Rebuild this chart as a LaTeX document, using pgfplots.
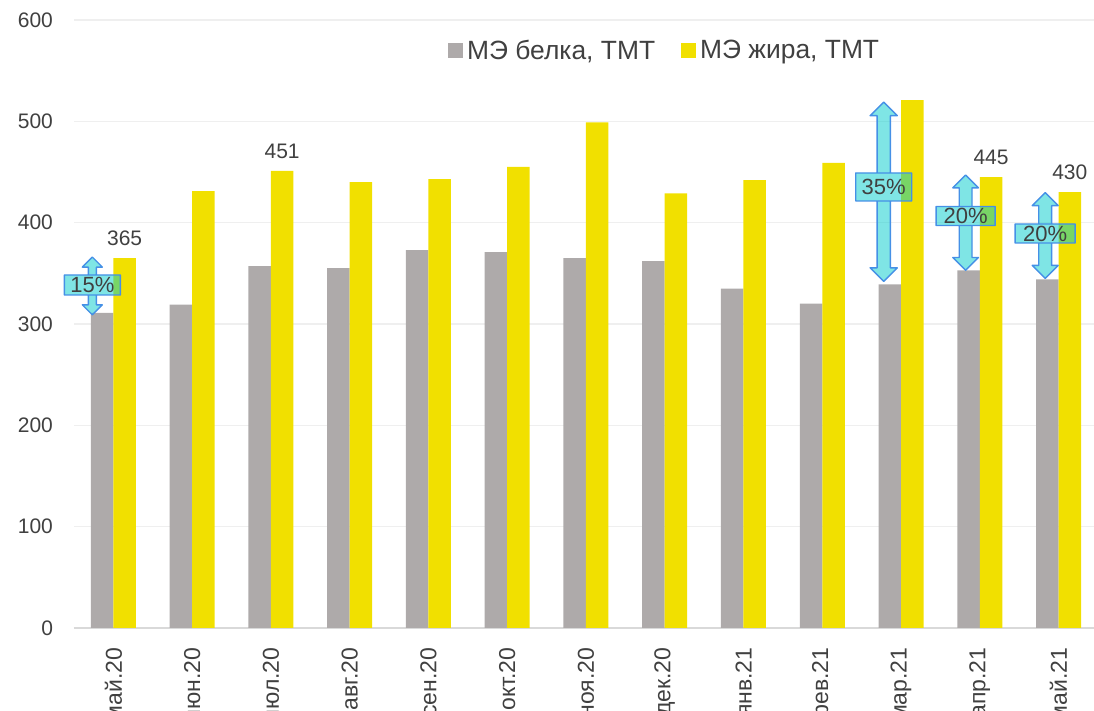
\documentclass[border=0pt]{standalone}
\usepackage{fontspec}
\setmainfont{Liberation Sans}
\usepackage{pgfplots}
\pgfplotsset{compat=1.18}
\usetikzlibrary{calc}
\definecolor{barGray}{HTML}{AEAAAA}
\definecolor{barYellow}{HTML}{F1E000}
\definecolor{gridGray}{HTML}{EFEFEF}
\definecolor{axisGray}{HTML}{D9D9D9}
\definecolor{textGray}{HTML}{404040}
\definecolor{arrowFill}{HTML}{00CCCC}
\definecolor{arrowLine}{HTML}{4590E6}

% #1 x, #2 tip top, #3 tip bottom, #4 box centre y, #5 box half width,
% #6 box half height, #7 shaft half width, #8 head half width, #9 text
\newcommand{\pctarrow}[9]{%
  \coordinate (T) at (axis cs:#1,#2);
  \coordinate (B) at (axis cs:#1,#3);
  \coordinate (C) at (axis cs:#1,#4);
  \fill[arrowFill, fill opacity=0.5]
    (T) -- ($(T)+(-#8,-#8)$) -- ($(T)+(-#7,-#8)$) -- ($(B)+(-#7,#8)$)
        -- ($(B)+(-#8,#8)$) -- (B) -- ($(B)+(#8,#8)$) -- ($(B)+(#7,#8)$)
        -- ($(T)+(#7,-#8)$) -- ($(T)+(#8,-#8)$) -- cycle
    ($(C)+(-#5,#6)$) -- ($(C)+(-#5,-#6)$) -- ($(C)+(#5,-#6)$) -- ($(C)+(#5,#6)$) -- cycle;
  \draw[arrowLine, line width=0.7pt, line join=round]
    ($(C)+(-#7,#6)$) -- ($(T)+(-#7,-#8)$) -- ($(T)+(-#8,-#8)$) -- (T)
    -- ($(T)+(#8,-#8)$) -- ($(T)+(#7,-#8)$) -- ($(C)+(#7,#6)$)
    ($(C)+(-#7,-#6)$) -- ($(B)+(-#7,#8)$) -- ($(B)+(-#8,#8)$) -- (B)
    -- ($(B)+(#8,#8)$) -- ($(B)+(#7,#8)$) -- ($(C)+(#7,-#6)$)
    ($(C)+(-#5,#6)$) rectangle ($(C)+(#5,-#6)$);
  \node[font=\fontsize{11}{13}\selectfont, text=textGray, inner sep=0pt] at (C) {#9};
}

\begin{document}
\begin{tikzpicture}
\begin{axis}[
  scale only axis,
  width=510pt, height=304pt,
  xmin=-0.5, xmax=12.45,
  ymin=0, ymax=600,
  ytick={0,100,...,600},
  xtick={0,...,12},
  xticklabels={май.20,июн.20,июл.20,авг.20,сен.20,окт.20,ноя.20,дек.20,янв.21,фев.21,мар.21,апр.21,май.21},
  ybar=0pt,
  bar width=11.25pt,
  axis lines*=left,
  y axis line style={draw=none},
  x axis line style={draw=axisGray, line width=0.75pt},
  tick style={draw=none},
  ymajorgrids,
  major grid style={draw=gridGray, line width=0.75pt},
  /pgf/number format/assume math mode=true,
  yticklabel style={font=\fontsize{10.5}{12}\selectfont, text=textGray},
  yticklabel shift=7pt,
  xticklabel style={font=\fontsize{11.5}{13}\selectfont, text=textGray, rotate=90, anchor=east},
  xticklabel shift=2pt,
  clip=false,
  legend style={at={(0.58,0.949)}, anchor=center, draw=none, fill=none,
    font=\fontsize{13.2}{15}\selectfont, text=textGray,
    /tikz/every even column/.append style={column sep=11pt}},
  legend columns=2,
  legend cell align=left,
  legend image code/.code={\fill[#1] (0pt,-3.75pt) rectangle (7.5pt,3.75pt);},
]
\addplot[fill=barGray, draw=none, bar shift=-5.625pt] coordinates {
  (0,311) (1,319) (2,357) (3,355) (4,373) (5,371) (6,365)
  (7,362) (8,335) (9,320) (10,339) (11,353) (12,344)};
\addlegendentry{МЭ белка, ТМТ}
\addplot[fill=barYellow, draw=none, bar shift=5.625pt] coordinates {
  (0,365) (1,431) (2,451) (3,440) (4,443) (5,455) (6,499)
  (7,429) (8,442) (9,459) (10,521) (11,445) (12,430)};
\addlegendentry{МЭ жира, ТМТ}
% value labels shown only on some months
\addplot[draw=none, fill=none, bar shift=5.625pt, forget plot,
  nodes near coords,
  nodes near coords style={font=\fontsize{10.5}{12}\selectfont, text=textGray, yshift=2.5pt}]
  coordinates {(0,365) (2,451) (11,445) (12,430)};

\pctarrow{-0.267}{366}{309}{338.5}{14pt}{5pt}{2pt}{5pt}{15\%}
\pctarrow{9.78}{519}{342}{435.2}{14pt}{7pt}{3.3pt}{6.8pt}{35\%}
\pctarrow{10.82}{447}{353}{406.6}{14.75pt}{4.75pt}{3.2pt}{6.4pt}{20\%}
\pctarrow{11.83}{429.6}{345}{389.3}{15pt}{4.75pt}{3.2pt}{6.5pt}{20\%}
\end{axis}
\pgfresetboundingbox
\path[use as bounding box] ($(current axis.south west)+(-37pt,-41.5pt)$) rectangle ($(current axis.north east)+(0pt,10pt)$);
\end{tikzpicture}
\end{document}
